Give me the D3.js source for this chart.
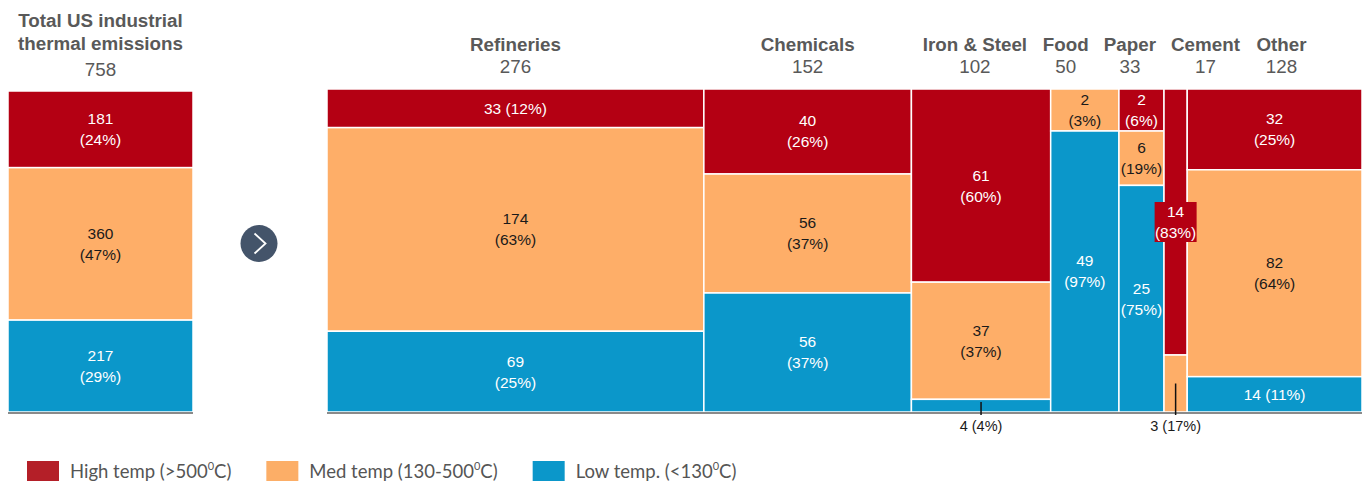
<!DOCTYPE html>
<html><head><meta charset="utf-8">
<script src="https://cdn.jsdelivr.net/npm/d3@7"></script>
<style>
body{margin:0;background:#fff;}
svg{display:block;font-family:"Liberation Sans",Arial,sans-serif;}
</style></head>
<body><svg id="c" width="1363" height="483"></svg>
<script>
// ---- data ----
const sectors = ["Refineries","Chemicals","Iron & Steel","Food","Paper","Cement","Other"];
const sectorTotals = [276,152,102,50,33,17,128];
const highVals = [33,40,61,0,2,14,32];
const medVals  = [174,56,37,2,6,3,82];
const lowVals  = [69,56,4,49,25,0,14];
const highPct = [12,26,60,0,6,83,25];
const medPct  = [63,37,37,3,19,17,64];
const lowPct  = [25,37,4,97,75,0,11];
const totalTitle = ["Total US industrial","thermal emissions"];
const grandTotal = 758;
const totalVals = [181,360,217];
const totalPct  = [24,47,29];
const levels = ["high","med","low"];
const legendLabels = [["High temp (>500","0","C)"],["Med temp (130-500","0","C)"],["Low temp. (<130","0","C)"]];

const colors = {high:"#B40013", med:"#FEAE68", low:"#0B97CA"};
const legendColors = ["#B41F28","#FCAE67","#0B97CA"];
const textOn = {high:"#fff", med:"#1a1a1a", low:"#fff"};

const svg = d3.select("#c");
const grey = "#595959";
const yTop = 89, yBottom = 412;
const fs = 15.5, lineGap = 21, hfs = 18.8;

function twoLine(g, x, cy, a, b, fill){
  const t = g.append("text").attr("text-anchor","middle").attr("fill",fill)
    .attr("font-size",fs);
  t.append("tspan").attr("x",x).attr("y",cy-lineGap/2).attr("dy","0.35em").text(a);
  t.append("tspan").attr("x",x).attr("y",cy+lineGap/2).attr("dy","0.35em").text(b);
}

// ---- left total bar ----
const lx = d3.scaleBand().domain(["total"]).range([8,193]).padding(0);
const ly = d3.scaleLinear().domain([0, d3.sum(totalVals)]).range([91, yBottom]);
const gl = svg.append("g");
let acc = 0;
totalVals.forEach((v,i)=>{
  const y0 = ly(acc), y1 = ly(acc+v); acc += v;
  gl.append("rect").attr("x",lx("total")).attr("width",lx.bandwidth())
    .attr("y",y0).attr("height",y1-y0).attr("fill",colors[levels[i]])
    .attr("stroke","#fff").attr("stroke-width",1.5);
  twoLine(gl, lx("total")+lx.bandwidth()/2, (y0+y1)/2, String(v), "("+totalPct[i]+"%)", textOn[levels[i]]);
});
const lcx = lx("total")+lx.bandwidth()/2;
gl.append("text").attr("x",lcx).attr("y",26.5).attr("text-anchor","middle").attr("font-weight","bold")
  .attr("font-size",hfs).attr("fill",grey).text(totalTitle[0]);
gl.append("text").attr("x",lcx).attr("y",49.5).attr("text-anchor","middle").attr("font-weight","bold")
  .attr("font-size",hfs).attr("fill",grey).text(totalTitle[1]);
gl.append("text").attr("x",lcx).attr("y",75.5).attr("text-anchor","middle")
  .attr("font-size",hfs).attr("fill",grey).text(grandTotal);
gl.append("line").attr("x1",8).attr("x2",193).attr("y1",yBottom+1).attr("y2",yBottom+1)
  .attr("stroke","#8a8a8a").attr("stroke-width",2);

// ---- arrow ----
svg.append("circle").attr("cx",259).attr("cy",243.5).attr("r",18.5).attr("fill","#44546A");
svg.append("path").attr("d","M254.5,233.5 L265.5,243.5 L254.5,253.5").attr("fill","none")
  .attr("stroke","#fff").attr("stroke-width",1.8);

// ---- mosaic ----
const x = d3.scaleLinear().domain([0, d3.sum(sectorTotals)]).range([327,1362]);
const gm = svg.append("g");
const minH = 42;
let cum = 0;
const headers = [];
sectors.forEach((s,i)=>{
  const x0 = x(cum), x1 = x(cum + sectorTotals[i]); cum += sectorTotals[i];
  const w = x1-x0, cx = (x0+x1)/2;
  const vals = [highVals[i], medVals[i], lowVals[i]];
  const pcts = [highPct[i], medPct[i], lowPct[i]];
  const sum = d3.sum(vals);
  const y = d3.scaleLinear().domain([0,sum]).range([0, yBottom-yTop]);
  let hs = vals.map(v=>y(v));
  const modes = vals.map((v,k)=>{
    if(v===0) return "none";
    const h = hs[k];
    if(w < 35) return h >= 100 ? "box" : "below";
    if(h >= 40) return "two";
    if(w >= 120) return h >= 25 ? "one" : "below";
    return "inflate";
  });
  if(modes.includes("inflate")){
    const fixed = d3.sum(modes.map((m)=> m==="inflate"?minH:0));
    const restSum = d3.sum(vals.filter((v,k)=>modes[k]!=="inflate"));
    const ys = d3.scaleLinear().domain([0,restSum]).range([0,yBottom-yTop-fixed]);
    hs = vals.map((v,k)=> modes[k]==="inflate"? minH : ys(v));
  }
  let yc = yTop;
  vals.forEach((v,k)=>{
    if(v===0) return;
    const y0 = yc, y1 = yc + hs[k]; yc = y1;
    const lev = levels[k];
    gm.append("rect").attr("x",x0).attr("y",y0).attr("width",w).attr("height",y1-y0)
      .attr("fill",colors[lev]).attr("stroke","#fff").attr("stroke-width",1.5);
    const cy = (y0+y1)/2, m = modes[k];
    const a = String(v), b = "("+pcts[k]+"%)";
    if(m==="two"||m==="inflate") twoLine(gm, cx, cy, a, b, textOn[lev]);
    else if(m==="one") gm.append("text").attr("x",cx).attr("y",cy).attr("dy","0.35em")
      .attr("text-anchor","middle").attr("font-size",fs).attr("fill",textOn[lev]).text(a+" "+b);
    else if(m==="below"){
      gm.append("line").attr("x1",cx).attr("x2",cx).attr("y1",Math.min(cy,yBottom-10)).attr("y2",yBottom+3)
        .attr("stroke","#111").attr("stroke-width",1.5).attr("class","tick");
      gm.append("text").attr("x",cx).attr("y",426).attr("dy","0.35em").attr("text-anchor","middle")
        .attr("font-size",14.5).attr("fill","#1a1a1a").text(a+" "+b);
    } else if(m==="box"){
      const bw = 42, bh = 40;
      gm.append("rect").attr("class","lblbox").attr("x",cx-bw/2).attr("y",cy-bh/2).attr("width",bw).attr("height",bh)
        .attr("fill",colors[lev]);
      twoLine(gm, cx, cy, a, b, textOn[lev]);
    }
  });
  headers.push({name:s, total:sectorTotals[i], cx});
});
gm.selectAll(".lblbox").raise();
gm.selectAll("text").raise();
gm.append("line").attr("x1",327).attr("x2",1362).attr("y1",yBottom+1).attr("y2",yBottom+1)
  .attr("stroke","#8a8a8a").attr("stroke-width",2);
gm.selectAll(".tick").raise();

// headers with overlap avoidance
const gh = svg.append("g");
headers.forEach(h=>{
  h.t1 = gh.append("text").attr("text-anchor","middle").attr("font-weight","bold").attr("font-size",hfs)
    .attr("fill",grey).attr("y",50.5).text(h.name);
  h.t2 = gh.append("text").attr("text-anchor","middle").attr("font-size",hfs)
    .attr("fill",grey).attr("y",72.5).text(h.total);
  h.w = Math.max(h.t1.node().getComputedTextLength(), h.t2.node().getComputedTextLength());
  h.pos = h.cx;
});
const gap = 16;
for(let it=0; it<500; it++){
  for(let k=0;k<headers.length-1;k++){
    const a = headers[k], b = headers[k+1];
    const need = a.w/2 + b.w/2 + gap - (b.pos - a.pos);
    if(need>0){ a.pos -= need/2; b.pos += need/2; }
  }
  headers.forEach(h=>{ h.pos += (h.cx - h.pos)*0.02; });
}
headers.forEach(h=>{ h.t1.attr("x",h.pos); h.t2.attr("x",h.pos); });

// legend
const lg = svg.append("g").attr("font-family","Lato, 'Open Sans', sans-serif");
let lxp = 27;
legendLabels.forEach((l,i)=>{
  lg.append("rect").attr("x",lxp).attr("y",461).attr("width",32).attr("height",20).attr("fill",legendColors[i]);
  const t = lg.append("text").attr("x",lxp+43).attr("y",477.5).attr("font-size",18.5).attr("fill","#555");
  t.append("tspan").text(l[0]);
  t.append("tspan").attr("font-size",11).attr("dy",-8).text(l[1]);
  t.append("tspan").attr("dy",8).text(l[2]);
  lxp = lxp + 43 + t.node().getComputedTextLength() + 35;
});
</script></body></html>
